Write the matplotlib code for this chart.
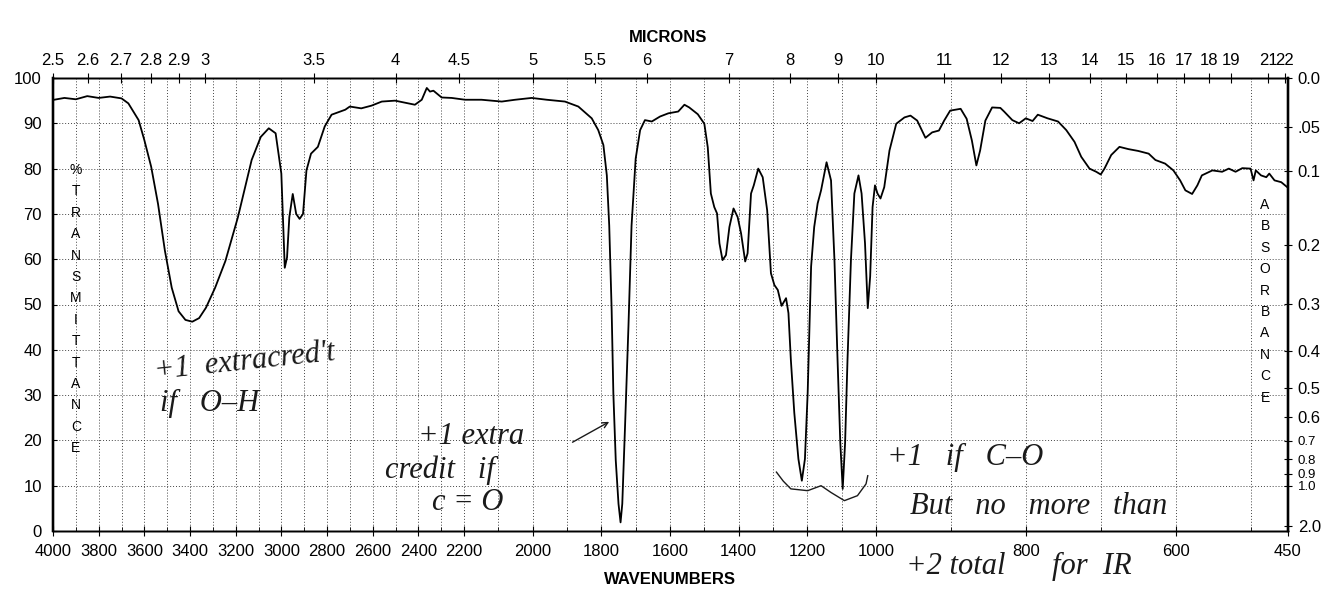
import numpy as np
import matplotlib.pyplot as plt

# IR spectrum: wavenumber (cm-1) and % transmittance
# O-H / C-H stretch region
wn_high = [3995, 3950, 3900, 3850, 3800, 3750, 3700, 3670, 3625, 3600, 3570, 3540,
           3510, 3480, 3450, 3420, 3390, 3360, 3330, 3290, 3245, 3190, 3130, 3090,
           3055, 3025, 3000, 2985, 2975, 2965, 2950, 2935, 2920, 2905, 2890, 2870,
           2840, 2810, 2780, 2720, 2700, 2650, 2605]
t_high = [95.2, 95.6, 95.3, 96.0, 95.6, 95.9, 95.5, 94.4, 90.7, 86.3, 80.4, 72.2,
          61.9, 53.7, 48.5, 46.6, 46.2, 47.0, 49.3, 53.7, 59.6, 69.3, 81.9, 87.0,
          88.9, 87.8, 78.9, 58.1, 60.4, 69.3, 74.4, 70.0, 68.9, 70.0, 79.6, 83.3,
          84.8, 89.3, 91.9, 93.0, 93.7, 93.3, 93.9]

# carbonyl region
wn_co = [2560, 2502, 2415, 2385, 2363, 2349, 2334, 2298, 2254, 2197, 2149, 2090,
         2051, 2003, 1959, 1906, 1867, 1828, 1809, 1794, 1784, 1777, 1770, 1765,
         1758, 1750, 1744, 1739, 1731, 1721, 1712, 1700, 1687, 1673, 1653, 1629,
         1605, 1576, 1558]
t_co = [94.8, 95.0, 94.1, 95.2, 97.8, 97.0, 97.2, 95.7, 95.6, 95.2, 95.2, 94.8,
        95.2, 95.6, 95.2, 94.8, 93.7, 91.1, 88.5, 85.2, 78.5, 67.4, 48.9, 30.4,
        15.6, 6.0, 1.9, 6.0, 23.0, 45.2, 67.4, 82.2, 88.5, 90.7, 90.4, 91.5,
        92.2, 92.6, 94.1]

# fingerprint region
wn_fp = [1544, 1519, 1500, 1490, 1481, 1471, 1463, 1456, 1447, 1437, 1427, 1415,
         1403, 1393, 1381, 1374, 1364, 1356, 1343, 1330, 1317, 1306, 1296, 1286,
         1275, 1262, 1255, 1248, 1238, 1226, 1216, 1207, 1199, 1189, 1180, 1170,
         1160, 1144, 1131, 1121, 1112, 1104, 1097, 1090, 1083, 1073, 1063, 1051,
         1042, 1032, 1024, 1017, 1010, 1003, 998, 994, 989, 982, 973, 962,
         954, 945, 934, 925, 916, 909, 901, 887, 879, 872, 866, 861,
         854, 845, 834]
t_fp = [93.5, 92.0, 89.9, 84.7, 74.5, 71.5, 70.1, 63.5, 59.8, 60.9, 67.1, 71.2,
        69.3, 65.7, 59.5, 61.3, 74.5, 76.3, 80.0, 78.1, 70.8, 56.9, 54.3, 53.2,
        49.7, 51.4, 48.1, 37.8, 26.1, 15.9, 11.1, 15.9, 30.5, 58.4, 67.1, 72.3,
        75.2, 81.4, 77.4, 59.8, 37.8, 19.5, 9.3, 19.5, 37.8, 59.8, 74.5, 78.5,
        74.5, 63.5, 49.2, 56.2, 71.5, 76.3, 74.5, 73.4, 75.9, 84.0, 89.9, 91.3,
        91.7, 90.6, 86.8, 88.0, 88.4, 90.6, 92.8, 93.2, 91.0, 86.2, 80.7, 84.0,
        90.6, 93.5, 93.4]

# far region down to 450
wn_low = [829, 818, 809, 800, 791, 784, 771, 757, 746, 735, 726, 715,
          706, 700, 695, 686, 675, 663, 650, 636, 627, 614, 603, 594,
          587, 578, 571, 565, 551, 538, 529, 520, 511, 500, 496, 493,
          486, 479, 475, 468, 459, 451]
t_low = [92.6, 90.7, 90.0, 91.1, 90.5, 91.9, 91.1, 90.4, 88.5, 85.9, 82.6, 80.0,
         79.3, 78.7, 80.0, 83.0, 84.8, 84.3, 83.9, 83.3, 81.9, 81.1, 79.6, 77.4,
         75.2, 74.4, 76.3, 78.5, 79.6, 79.3, 80.0, 79.3, 80.1, 80.0, 77.4, 79.6,
         78.5, 78.1, 78.9, 77.4, 77.0, 75.9]

wavenumber = wn_high + wn_co + wn_fp + wn_low
transmittance = t_high + t_co + t_fp + t_low

# axis labels
wn_major = [4000, 3800, 3600, 3400, 3200, 3000, 2800, 2600, 2400, 2200,
            2000, 1800, 1600, 1400, 1200, 1000, 800, 600, 450]
microns = [2.5, 2.6, 2.7, 2.8, 2.9, 3, 3.5, 4, 4.5, 5, 5.5, 6, 7, 8, 9, 10,
           11, 12, 13, 14, 15, 16, 17, 18, 19, 21, 22]
absorbance = [0.0, 0.05, 0.1, 0.2, 0.3, 0.4, 0.5, 0.6, 0.7, 0.8, 0.9, 1.0, 2.0]
abs_labels = ['0.0', '.05', '0.1', '0.2', '0.3', '0.4', '0.5', '0.6', '0.7',
              '0.8', '0.9', '1.0', '2.0']

# chart scale breaks (wavenumber -> pixel from right edge)
brk_wn = [450, 1000, 2200, 4000]
brk_px = [0, 412, 824, 1235]


def fwd(x):
    return np.interp(x, brk_wn, brk_px)


def inv(p):
    return np.interp(p, brk_px, brk_wn)


W, H = 1343, 602
L, R, T, B = 53, 1288, 78, 531

fig = plt.figure(figsize=(W / 100, H / 100), dpi=100)
ax = fig.add_axes([L / W, 1 - B / H, (R - L) / W, (B - T) / H])
ax.set_xscale('function', functions=(fwd, inv))
ax.set_xlim(4000, 450)
ax.set_ylim(0, 100)

ax.plot(wavenumber, transmittance, color='black', lw=1.3)

font = 'Liberation Sans'
grid_kw = dict(color='#444444', lw=0.7, linestyle=(0, (1, 2)))

ax.set_xticks(wn_major)
ax.set_xticklabels([str(w) for w in wn_major], fontsize=12, family=font)
ax.set_xticks([w for w in range(500, 4000, 100) if w not in wn_major], minor=True)
ax.set_yticks(range(0, 101, 10))
ax.set_yticklabels([str(v) for v in range(0, 101, 10)], fontsize=12, family=font)
ax.tick_params(axis='x', which='major', direction='inout', length=7, pad=6)
ax.tick_params(axis='x', which='minor', direction='in', length=3)
ax.tick_params(axis='y', direction='in', length=3, pad=8)
ax.grid(True, which='both', axis='x', **grid_kw)
ax.grid(True, which='major', axis='y', **grid_kw)

# top: microns
ax_top = ax.twiny()
ax_top.set_xscale('function', functions=(fwd, inv))
ax_top.set_xlim(4000, 450)
ax_top.set_xticks([10000 / m for m in microns])
ax_top.set_xticklabels([('%g' % m) for m in microns], fontsize=12, family=font)
ax_top.tick_params(axis='x', direction='inout', length=7, pad=4)

# right: absorbance (the 0.7 - 1.0 labels are packed tightly)
ax_r = ax.twinx()
ax_r.set_ylim(0, 100)
ax_r.set_yticks([100 * 10 ** (-a) for a in absorbance])
ax_r.set_yticklabels(abs_labels, fontsize=12, family=font)
ax_r.tick_params(axis='y', direction='inout', length=6, pad=4)
for lab, a in zip(ax_r.get_yticklabels(), absorbance):
    if 0.65 < a < 1.05:
        lab.set_fontsize(9.5)

for a in (ax, ax_top, ax_r):
    for side in ('left', 'right'):
        a.spines[side].set_linewidth(1.6)
    for side in ('top', 'bottom'):
        a.spines[side].set_linewidth(1.0)

fig.text(668 / W, 1 - 38 / H, 'MICRONS', ha='center', va='center',
         fontsize=12, fontweight='bold', family=font)
fig.text(670 / W, 1 - 580 / H, 'WAVENUMBERS', ha='center', va='center',
         fontsize=12, fontweight='bold', family=font)

for i, ch in enumerate('%TRANSMITTANCE'):
    fig.text(76 / W, 1 - (170 + i * 21.4) / H, ch, ha='center', va='center',
             fontsize=10, family=font)
for i, ch in enumerate('ABSORBANCE'):
    fig.text(1265 / W, 1 - (205 + i * 21.4) / H, ch, ha='center', va='center',
             fontsize=10, family=font)

# handwritten grading notes
hw = dict(family='Liberation Serif', style='italic', color='#1a1a1a', fontsize=22)
fig.text(153 / W, 1 - 362 / H, '+1  extracred\'t', rotation=6, va='center', **hw)
fig.text(160 / W, 1 - 403 / H, 'if   O\u2013H', va='center', **hw)
fig.text(418 / W, 1 - 437 / H, '+1 extra', va='center', **hw)
fig.text(385 / W, 1 - 470 / H, 'credit   if', va='center', **hw)
fig.text(432 / W, 1 - 503 / H, 'c = O', va='center', **hw)
fig.text(887 / W, 1 - 457 / H, '+1   if   C\u2013O', va='center', **hw)
fig.text(910 / W, 1 - 507 / H, 'But   no   more   than', va='center', **hw)
fig.text(906 / W, 1 - 566 / H, '+2 total', va='center', **hw)
fig.text(1052 / W, 1 - 566 / H, 'for  IR', va='center', **hw)

ax.annotate('', xy=(1770, 24.4), xytext=(1891, 19.3),
            arrowprops=dict(arrowstyle='->', color='#1a1a1a', lw=1.0))

brace_wn = [1290, 1270, 1248, 1199, 1160, 1131, 1092, 1054, 1029, 1024]
brace_t = [13.0, 11.0, 9.3, 8.9, 10.0, 8.5, 6.7, 7.8, 10.4, 12.2]
ax.plot(brace_wn, brace_t, color='#1a1a1a', lw=1.0)

fig.savefig('out.png', dpi=100)
